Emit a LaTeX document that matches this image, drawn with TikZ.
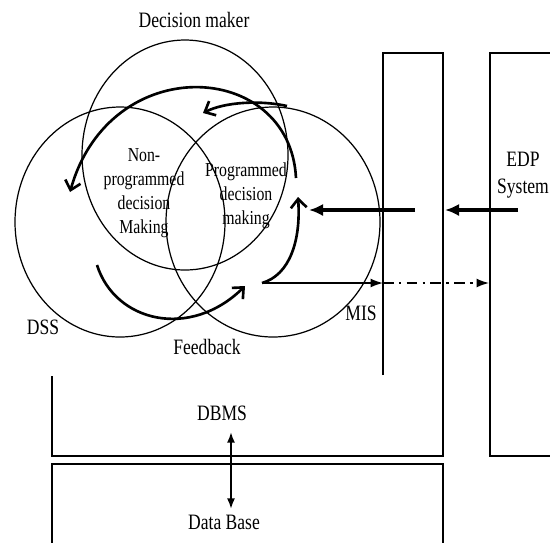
\documentclass[tikz,border=0pt]{standalone}
\usepackage{fontspec}
\setmainfont{Liberation Serif}
\usetikzlibrary{arrows.meta}
\begin{document}
\begin{tikzpicture}[x=0.02cm,y=-0.02cm,
  ring/.style={draw, line width=0.7pt},
  frame/.style={draw, line width=1pt},
  flow/.style={line width=1.8pt, -{Latex[length=8pt,width=7pt]}},
  swing/.style={line width=1.5pt, -{Straight Barb[length=5pt,width=9pt]}},
  thin/.style={line width=0.8pt, -{Latex[length=7pt,width=5pt]}},
  lbl/.style={font=\fontsize{10}{11}\selectfont, inner sep=0pt, yscale=1.25, transform shape},
  inside/.style={font=\fontsize{9}{10.9}\selectfont, align=center, inner sep=0pt, yscale=1.25, transform shape}]
\useasboundingbox (0,0) rectangle (550,542);

% the three overlapping systems
\coordinate (dmc) at (185,155);
\coordinate (dssc) at (120,222);
\coordinate (misc) at (273,222);
\draw[ring] (dmc) ellipse [x radius=103, y radius=115];
\draw[ring] (dssc) ellipse [x radius=105, y radius=115];
\draw[ring] (misc) ellipse [x radius=107, y radius=115];

% MIS column and DBMS layer
\coordinate (m1) at (383,375);
\coordinate (m2) at (383,53);
\coordinate (m3) at (443,53);
\coordinate (m4) at (443,456);
\coordinate (m5) at (52,456);
\coordinate (m6) at (52,376);
\draw[frame] (m1) -- (m2) -- (m3) -- (m4) -- (m5) -- (m6);

% EDP system column
\coordinate (e1) at (552,53);
\coordinate (e2) at (490,53);
\coordinate (e3) at (490,456);
\coordinate (e4) at (552,456);
\draw[frame] (e1) -- (e2) -- (e3) -- (e4);

% data base layer
\coordinate (d1) at (52,545);
\coordinate (d2) at (52,464);
\coordinate (d3) at (443,464);
\coordinate (d4) at (443,545);
\draw[frame] (d1) -- (d2) -- (d3) -- (d4);

% labels
\node[lbl] (dm) at (194,20) {Decision maker};
\node[inside] (npd) at (144,193) {Non-\\programmed\\decision\\Making};
\node[inside] (pd) at (246,196) {Programmed\\decision\\making};
\node[lbl, align=center, font=\fontsize{10}{12.5}\selectfont] (edp) at (523,175) {EDP\\System};
\node[lbl] (dss) at (43,327) {DSS};
\node[lbl] (fb) at (207,347) {Feedback};
\node[lbl] (mis) at (361,313) {MIS};
\node[lbl] (dbms) at (222,413) {DBMS};
\node[lbl] (db) at (224,522) {Data Base};

% information flows
\coordinate (f1) at (415,210);
\coordinate (f1e) at (309,210);
\coordinate (f2) at (518,210);
\coordinate (f2e) at (445,210);
\draw[flow] (f1) -- (f1e);
\draw[flow] (f2) -- (f2e);

\coordinate (o) at (262,283);
\coordinate (oa) at (383,283);
\coordinate (ob) at (489,283);
\draw[thin] (o) -- (oa);
\draw[thin, dash pattern=on 6pt off 3pt on 1.5pt off 3pt] (oa) -- (ob);

\coordinate (up) at (298,197);
\draw[swing] (o) .. controls (290,275) and (301,240) .. (up);

\coordinate (fbs) at (97,265);
\coordinate (fbe) at (245,286);
\draw[swing] (fbs) .. controls (115,322) and (190,340) .. (fbe);

\coordinate (bas) at (296,178);
\coordinate (bae) at (70,192);
\draw[swing] (bas) .. controls (290,60) and (110,50) .. (bae);

\coordinate (sas) at (287,106);
\coordinate (sae) at (203,113);
\draw[swing] (sas) .. controls (260,100) and (225,102) .. (sae);

% DBMS to data base
\coordinate (x1) at (231,432);
\coordinate (x2) at (231,509);
\draw[line width=1pt, {Latex[length=6pt,width=4.5pt]}-{Latex[length=6pt,width=4.5pt]}] (x1) -- (x2);
\end{tikzpicture}
\end{document}
